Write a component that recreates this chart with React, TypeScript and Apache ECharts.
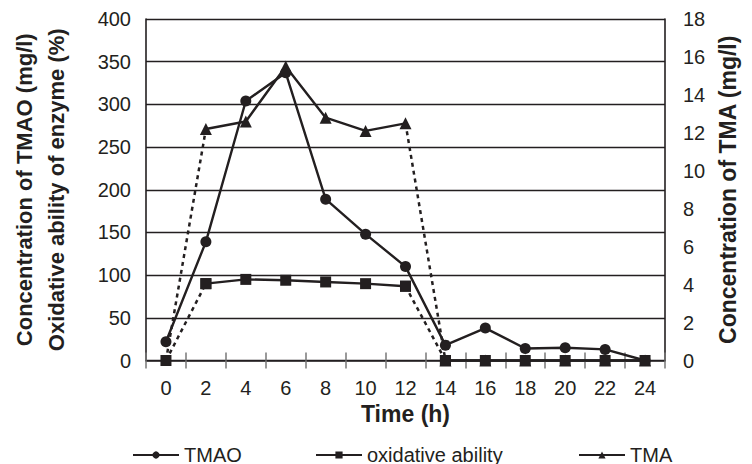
import React, { useEffect, useRef } from 'react';
import * as echarts from 'echarts';

const hours = ['0', '2', '4', '6', '8', '10', '12', '14', '16', '18', '20', '22', '24'];
const tmao = [22, 139, 304, 337, 189, 148, 110, 18, 38, 14, 15, 13, 0];
const oxidative = [0, 90, 95, 94, 92, 90, 87, 0, 0, 0, 0, 0, 0];
const tma = [0, 12.2, 12.6, 15.5, 12.8, 12.1, 12.5, 0, 0, 0, 0, 0, 0];

const solidRuns = [[1, 6], [7, 12]];
const dottedRuns = [[0, 1], [6, 7]];

const FONT = "'Liberation Sans', Arial, sans-serif";
const INK = '#231f20';

function pick(arr: number[], from: number, to: number) {
  return arr.map((v, i) => (i >= from && i <= to ? v : null));
}
function pickMany(arr: number[], runs: number[][]) {
  return arr.map((v, i) => (runs.some(([a, b]) => i >= a && i <= b) ? v : null));
}

export default function App() {
  const ref = useRef<HTMLDivElement>(null);
  useEffect(() => {
    if (!ref.current) return;
    const chart = echarts.init(ref.current, undefined, { renderer: 'svg' });

    const lineBase = (name: string, data: any[], yAxisIndex: number, symbol: string, symbolSize: number, dotted: boolean, z: number) => ({
      type: 'line',
      name,
      data,
      yAxisIndex,
      symbol,
      symbolSize,
      showSymbol: true,
      connectNulls: false,
      z,
      itemStyle: { color: INK },
      lineStyle: { color: INK, width: dotted ? 2.5 : 2.4, type: dotted ? [4, 4] : 'solid' },
      emphasis: { disabled: true },
    });

    const series: any[] = [];
    solidRuns.forEach(([a, b]) => series.push(lineBase('TMA', pick(tma, a, b), 1, 'triangle', 12, false, 2)));
    series.push(lineBase('tma-dotted', pickMany(tma, dottedRuns), 1, 'none', 0, true, 2));
    solidRuns.forEach(([a, b]) => series.push(lineBase('oxidative ability', pick(oxidative, a, b), 0, 'rect', 11, false, 3)));
    series.push(lineBase('ox-dotted', pickMany(oxidative, dottedRuns), 0, 'rect', 11, true, 3));
    series.push(lineBase('TMAO', tmao, 0, 'circle', 11, false, 4));

    const legendCommon = {
      top: 445,
      itemWidth: 46,
      itemHeight: 9,
      itemGap: 5,
      padding: 0,
      textStyle: { fontFamily: FONT, fontSize: 20, lineHeight: 20, color: INK, padding: [0, 0, 0, 0] },
      lineStyle: { color: INK, width: 2 },
      itemStyle: { color: INK },
      selectedMode: false,
    };

    chart.setOption({
      animation: false,
      backgroundColor: '#ffffff',
      textStyle: { fontFamily: FONT },
      legend: [
        { ...legendCommon, left: 132, data: ['TMAO'] },
        { ...legendCommon, left: 315, data: ['oxidative ability'] },
        { ...legendCommon, left: 578, data: ['TMA'] },
      ],
      grid: { left: 146, right: 87, top: 19, bottom: 103.5, containLabel: false },
      xAxis: [
        {
          type: 'category',
          data: hours,
          boundaryGap: true,
          name: 'Time (h)',
          nameLocation: 'middle',
          nameGap: 39,
          nameTextStyle: { fontFamily: FONT, fontSize: 23, fontWeight: 'bold', color: INK },
          axisLine: { lineStyle: { color: INK, width: 1.5 } },
          axisTick: { show: true, inside: false, length: 8, alignWithLabel: false, lineStyle: { color: '#777', width: 1.5 } },
          axisLabel: { fontFamily: FONT, fontSize: 20, color: INK, margin: 17 },
          splitLine: { show: false },
        },
        {
          type: 'category',
          data: hours,
          boundaryGap: true,
          position: 'bottom',
          axisLine: { show: false },
          axisTick: { show: true, inside: true, length: 8, lineStyle: { color: '#777', width: 1.5 } },
          axisLabel: { show: false },
          splitLine: { show: false },
        },
      ],
      yAxis: [
        {
          type: 'value',
          min: 0,
          max: 400,
          interval: 50,
          position: 'left',
          name: 'Concentration of TMAO (mg/l)\nOxidative ability of enzyme (%)',
          nameLocation: 'middle',
          nameGap: 74,
          nameTextStyle: { fontFamily: FONT, fontSize: 22, fontWeight: 'bold', color: INK, lineHeight: 32 },
          axisLine: { show: true, lineStyle: { color: INK, width: 1.6 } },
          axisTick: { show: false },
          axisLabel: { fontFamily: FONT, fontSize: 20, color: INK, margin: 15 },
          splitLine: { show: true, lineStyle: { color: INK, width: 1.4 } },
        },
        {
          type: 'value',
          min: 0,
          max: 18,
          interval: 2,
          position: 'right',
          name: 'Concentration of TMA (mg/l)',
          nameLocation: 'middle',
          nameGap: 51,
          nameTextStyle: { fontFamily: FONT, fontSize: 23, fontWeight: 'bold', color: INK, lineHeight: 24 },
          axisLine: { show: true, lineStyle: { color: INK, width: 1.6 } },
          axisTick: { show: false },
          axisLabel: { fontFamily: FONT, fontSize: 20, color: INK, margin: 18 },
          splitLine: { show: false },
        },
      ],
      series,
    });
    return () => chart.dispose();
  }, []);

  return <div ref={ref} style={{ position: 'fixed', left: 0, top: 0, width: 752, height: 464 }} />;
}
